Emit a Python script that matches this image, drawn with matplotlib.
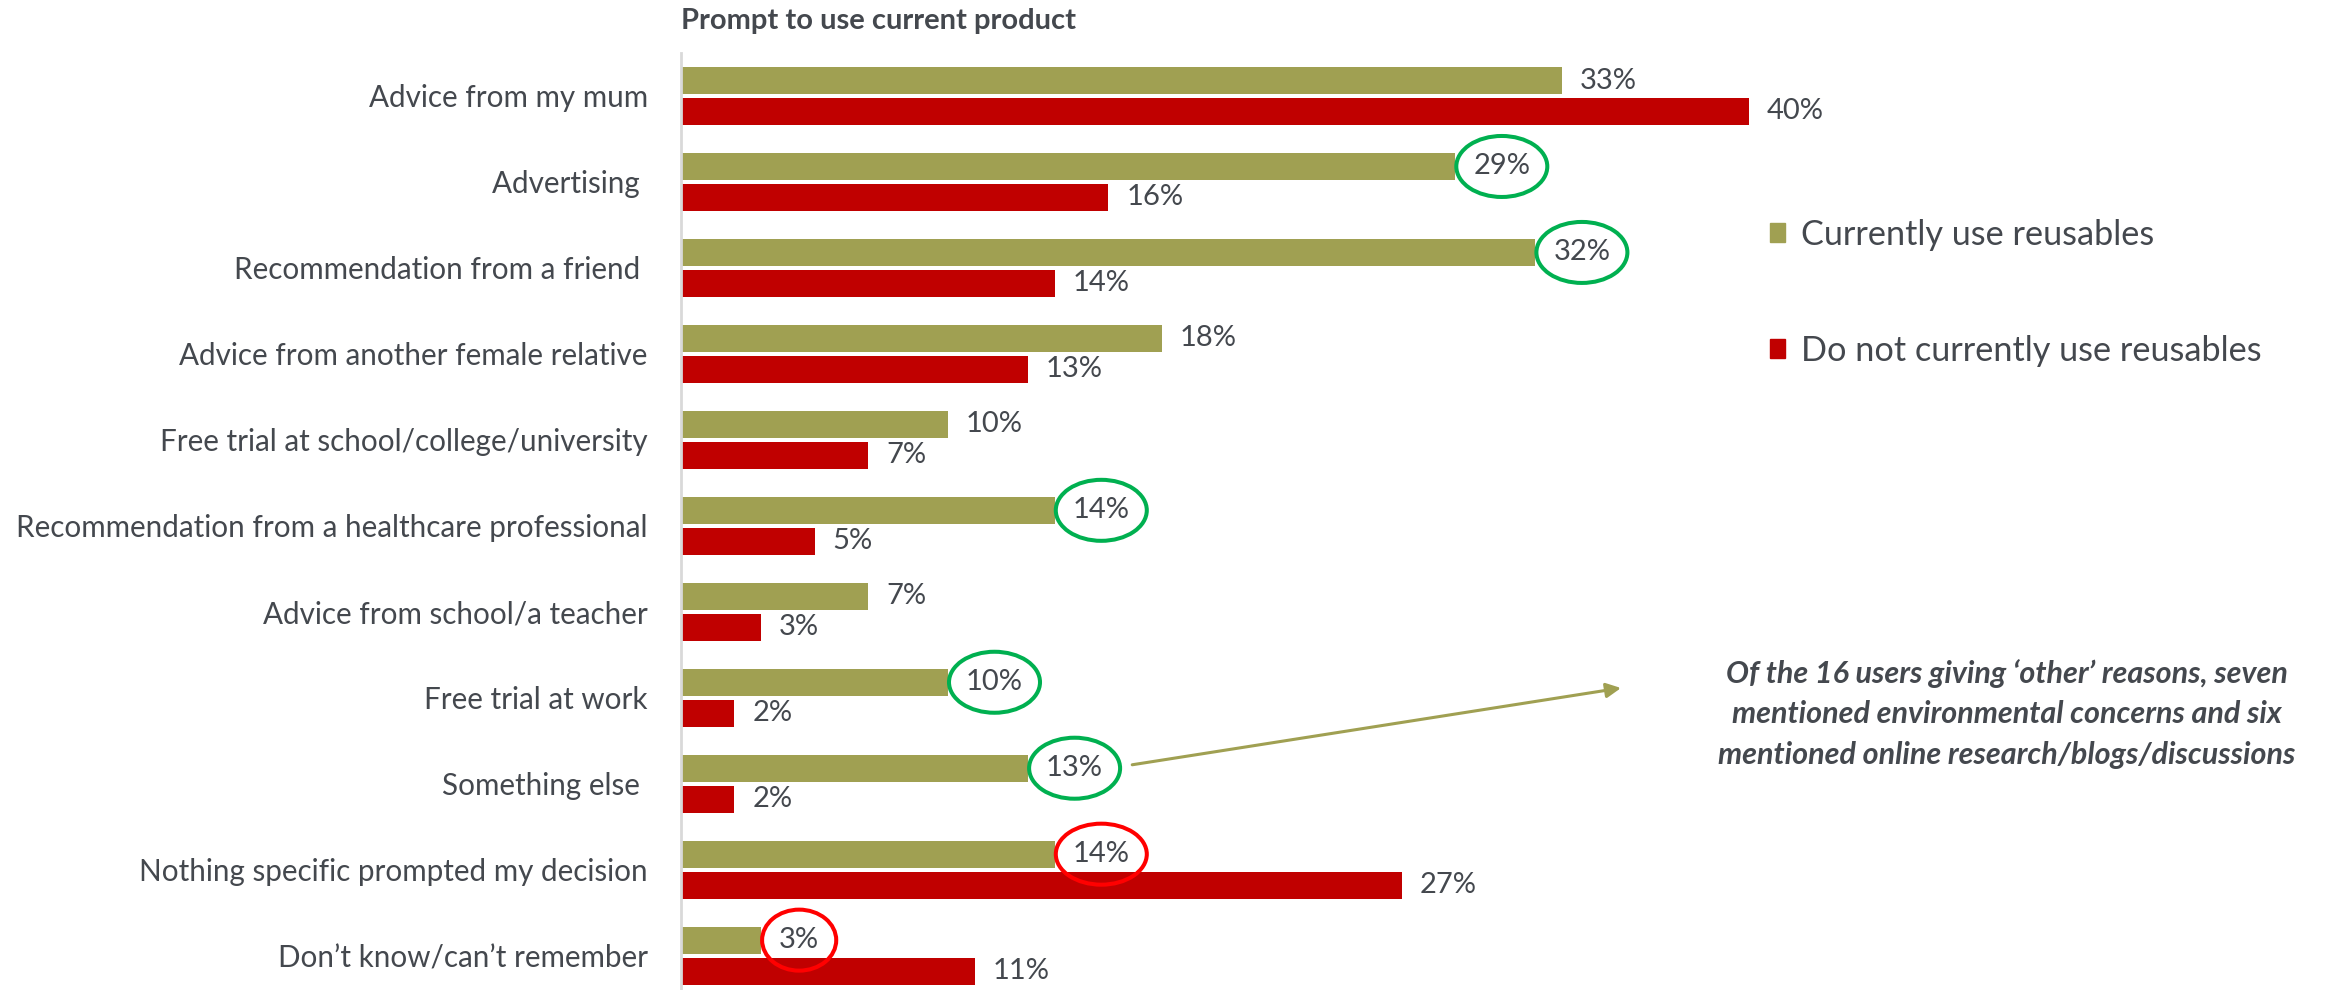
import matplotlib.pyplot as plt
from matplotlib.patches import Patch, Ellipse
from matplotlib.transforms import IdentityTransform

plt.rcParams['font.family'] = ['Lato', 'DejaVu Sans']

categories = [
    'Advice from my mum',
    'Advertising ',
    'Recommendation from a friend ',
    'Advice from another female relative',
    'Free trial at school/college/university',
    'Recommendation from a healthcare professional',
    'Advice from school/a teacher',
    'Free trial at work',
    'Something else ',
    'Nothing specific prompted my decision',
    'Don\u2019t know/can\u2019t remember',
]
use_reusables = [33, 29, 32, 18, 10, 14, 7, 10, 13, 14, 3]
no_reusables = [40, 16, 14, 13, 7, 5, 3, 2, 2, 27, 11]
series_names = ['Currently use reusables', 'Do not currently use reusables']

# labels to ring: index -> ring colour (all on the "use" series)
ringed = {1: '#00B050', 2: '#00B050', 5: '#00B050', 7: '#00B050',
          8: '#00B050', 9: '#FF0000', 10: '#FF0000'}

note = ('Of the 16 users giving \u2018other\u2019 reasons, seven\n'
        'mentioned environmental concerns and six\n'
        'mentioned online research/blogs/discussions')

olive = '#A0A052'
red = '#C00000'
txt = '#44484E'

fig = plt.figure(figsize=(23.36, 9.9), dpi=100)
ax = fig.add_axes([681 / 2336, 0.0, (1760 - 681) / 2336, 1 - 53 / 990])

y = list(range(len(categories)))
h = 0.314
off = 0.18
ax.barh([v - off for v in y], use_reusables, height=h, color=olive)
ax.barh([v + off for v in y], no_reusables, height=h, color=red)

ax.set_xlim(0, (1760 - 681) / 26.7)
ax.set_ylim(10.4, -0.5)

use_labels = []
for i, v in enumerate(use_reusables):
    t = ax.annotate(f'{v}%', (v, i - off), xytext=(18, 0), textcoords='offset pixels',
                    va='center', ha='left', fontsize=21, color=txt)
    use_labels.append(t)
for i, v in enumerate(no_reusables):
    ax.annotate(f'{v}%', (v, i + off), xytext=(18, 0), textcoords='offset pixels',
                va='center', ha='left', fontsize=21, color=txt)

ax.set_yticks(y)
ax.set_yticklabels(categories, fontsize=21.3, color=txt)
ax.tick_params(axis='y', length=0, pad=24)
ax.set_xticks([])
for s in ['top', 'right', 'bottom']:
    ax.spines[s].set_visible(False)
ax.spines['left'].set_color('#D9D9D9')
ax.spines['left'].set_linewidth(2)

fig.text(681 / 2336, 1 - 21 / 990, 'Prompt to use current product',
         fontsize=21, fontweight='bold', color=txt, va='center', ha='left')

handles = [Patch(color=olive), Patch(color=red)]
fig.legend(handles, series_names, loc='upper left',
           bbox_to_anchor=(1739 / 2336, 1 - 188 / 990), frameon=False,
           fontsize=24.7, labelcolor=txt, handlelength=0.45, handleheight=0.45,
           handletextpad=0.45, labelspacing=2.45)

# arrow from the "Something else" label out to the note
ax.annotate('', xy=(1621 / 2336, 1 - 688 / 990), xycoords='figure fraction',
            xytext=(use_reusables[8] + 3.9, 8 - off - 0.04), textcoords='data',
            arrowprops=dict(arrowstyle='-|>', color=olive, lw=2.2,
                            mutation_scale=22, shrinkA=0, shrinkB=0))

fig.text(2007 / 2336, 1 - 714 / 990, note, fontsize=22, fontweight='bold',
         fontstyle='italic', color=txt, ha='center', va='center',
         linespacing=1.55)

# rings around the highlighted labels, sized in pixels around each text
fig.canvas.draw()
renderer = fig.canvas.get_renderer()
for i, colour in ringed.items():
    bb = use_labels[i].get_window_extent(renderer)
    cx = (bb.x0 + bb.x1) / 2
    cy = (bb.y0 + bb.y1) / 2
    ring = Ellipse((cx, cy), bb.width + 34, 61, transform=IdentityTransform(),
                   fill=False, ec=colour, lw=2.9, clip_on=False)
    fig.add_artist(ring)

fig.savefig('out.png', dpi=100)
